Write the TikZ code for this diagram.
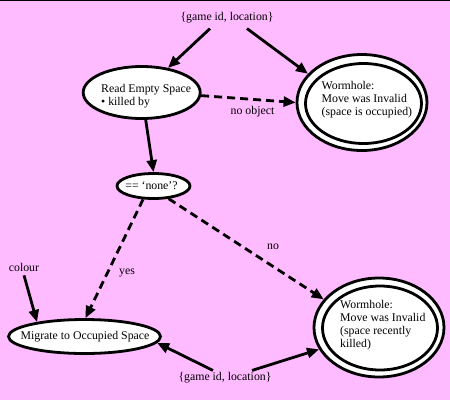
\documentclass[tikz,border=0pt]{standalone}
\usepackage{fontspec}
\setmainfont{Liberation Serif}
\usetikzlibrary{shapes.geometric,arrows.meta}
\definecolor{bgpink}{RGB}{255,187,255}
\begin{document}
\begin{tikzpicture}[x=1pt,y=-1pt,
  every node/.style={font=\rmfamily\fontsize{11.8}{12.8}\selectfont},
  ell/.style={draw,ellipse,fill=white,line width=2.8pt,inner sep=0pt},
  txt/.style={inner sep=0pt,align=left,anchor=west},
  lbl/.style={inner sep=2pt},
  arr/.style={line width=2.8pt,-{Triangle[length=12pt,width=10pt]}},
  darr/.style={arr,dash pattern=on 8pt off 5pt}]
\useasboundingbox (0,0) rectangle (450,400);
\fill[bgpink] (0,0) rectangle (450,400);
\draw[line width=1pt] (0,0.5) -- (450,0.5);
% nodes
\node[lbl] (tl) at (227,18) {\{game id, location\}};
\node[ell,minimum width=117,minimum height=52] (re) at (141.7,92.5) {};
\node[txt] (ret) at (101,96.5) {Read Empty Space\\• killed by};
\node[ell,minimum width=130,minimum height=96] (w1) at (362,102.5) {};
\node[ell,fill=none,minimum width=116,minimum height=80] (w1i) at (363.5,103.5) {};
\node[txt] (w1t) at (321.5,99.5) {Wormhole:\\Move was Invalid\\(space is occupied)};
\node[ell,minimum width=73,minimum height=25] (nn) at (153.5,186) {};
\node[inner sep=0pt] (nnt) at (151.5,186) {== ‘none’?};
\node[ell,minimum width=152,minimum height=34] (mg) at (84.5,336.5) {};
\node[inner sep=0pt] (mgt) at (85,337) {Migrate to Occupied Space};
\node[ell,minimum width=130,minimum height=99] (w2) at (379,327.5) {};
\node[ell,fill=none,minimum width=115,minimum height=84] (w2i) at (380,328) {};
\node[txt] (w2t) at (340,325) {Wormhole:\\Move was Invalid\\(space recently\\killed)};
\node[lbl] (cl) at (24,267) {colour};
\node[lbl] (bl) at (225,378) {\{game id, location\}};
\node[lbl] (lno) at (252.5,112) {no object};
\node[lbl] (lyes) at (127,273) {yes};
\node[lbl] (lnn) at (273,247) {no};
% edges
\draw[arr] ([xshift=-17pt,yshift=-3pt]tl.south) -- (re);
\draw[arr] ([xshift=20pt,yshift=-3pt]tl.south) -- (w1.152);
\draw[darr] (re.-3) -- (w1.west);
\draw[arr] ([xshift=4pt]re.south) -- (nn.north);
\draw[darr] (nn.-128) -- ([xshift=1pt]mg.north);
\draw[darr] (nn.-40) -- (w2.153);
\draw[arr] ([yshift=-2pt]cl.south) -- (mg.163);
\draw[arr] ([xshift=-12pt]bl.north) -- (mg.-5);
\draw[arr] ([xshift=27pt]bl.north) -- (w2.200);
\end{tikzpicture}
\end{document}
